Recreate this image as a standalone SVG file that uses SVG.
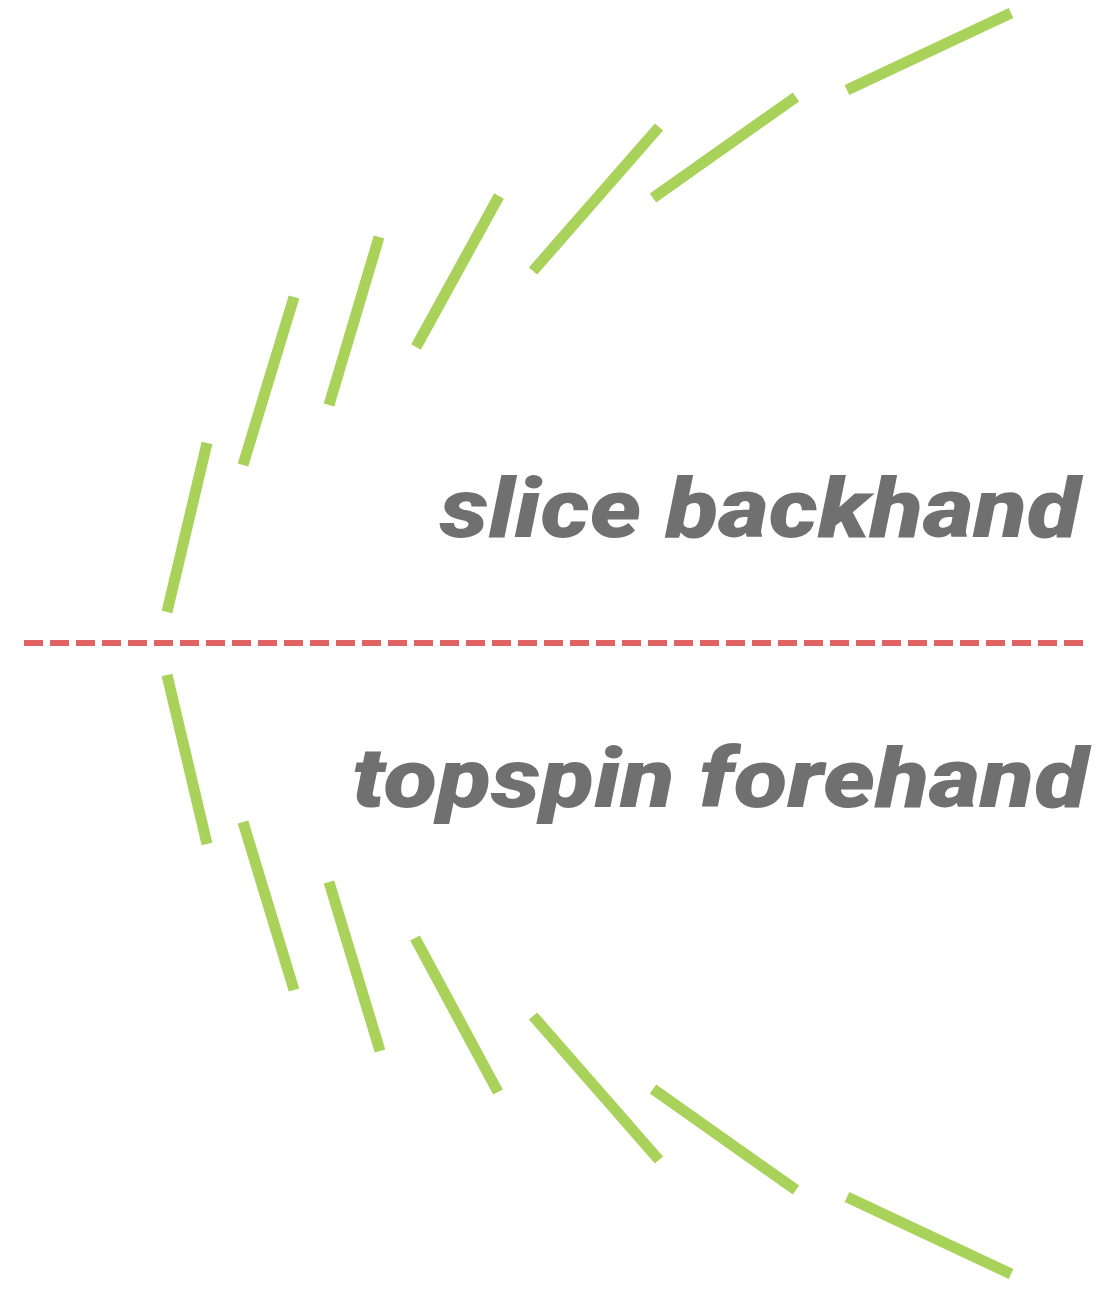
<svg xmlns="http://www.w3.org/2000/svg" width="1112" height="1290" viewBox="0 0 1112 1290">
<style>
.seg{stroke:#a8d25a;stroke-width:11;stroke-linecap:butt;fill:none}
.net{stroke:#e06262;stroke-width:6;stroke-dasharray:19 7;fill:none}
.lbl{font-family:Roboto,"Liberation Sans",sans-serif;font-weight:900;font-style:italic;font-size:83px;fill:#707070}
</style>
<rect width="1112" height="1290" fill="#ffffff"/>
<g id="slice-path">
<line class="seg" x1="167" y1="612" x2="207" y2="443"/>
<line class="seg" x1="243" y1="465" x2="294" y2="297"/>
<line class="seg" x1="329" y1="405" x2="379" y2="237"/>
<line class="seg" x1="416" y1="347" x2="499" y2="196"/>
<line class="seg" x1="533" y1="271" x2="659" y2="127"/>
<line class="seg" x1="653" y1="198" x2="796" y2="97"/>
<line class="seg" x1="847" y1="90" x2="1011" y2="13"/>
</g>
<g id="topspin-path">
<line class="seg" x1="167" y1="675" x2="207" y2="844"/>
<line class="seg" x1="243" y1="822" x2="294" y2="990"/>
<line class="seg" x1="329" y1="882" x2="380" y2="1051"/>
<line class="seg" x1="415" y1="938" x2="498" y2="1092"/>
<line class="seg" x1="533" y1="1016" x2="659" y2="1160"/>
<line class="seg" x1="653" y1="1089" x2="796" y2="1190"/>
<line class="seg" x1="847" y1="1197" x2="1011" y2="1274"/>
</g>
<g id="net">
<line class="net" x1="24" y1="643" x2="1086" y2="643"/>
</g>
<g id="label-slice">
<text class="lbl" x="1080" y="537" text-anchor="end" textLength="640" lengthAdjust="spacingAndGlyphs">slice backhand</text>
</g>
<g id="label-topspin">
<text class="lbl" x="1088" y="807" text-anchor="end" textLength="736" lengthAdjust="spacingAndGlyphs">topspin forehand</text>
</g>
</svg>
